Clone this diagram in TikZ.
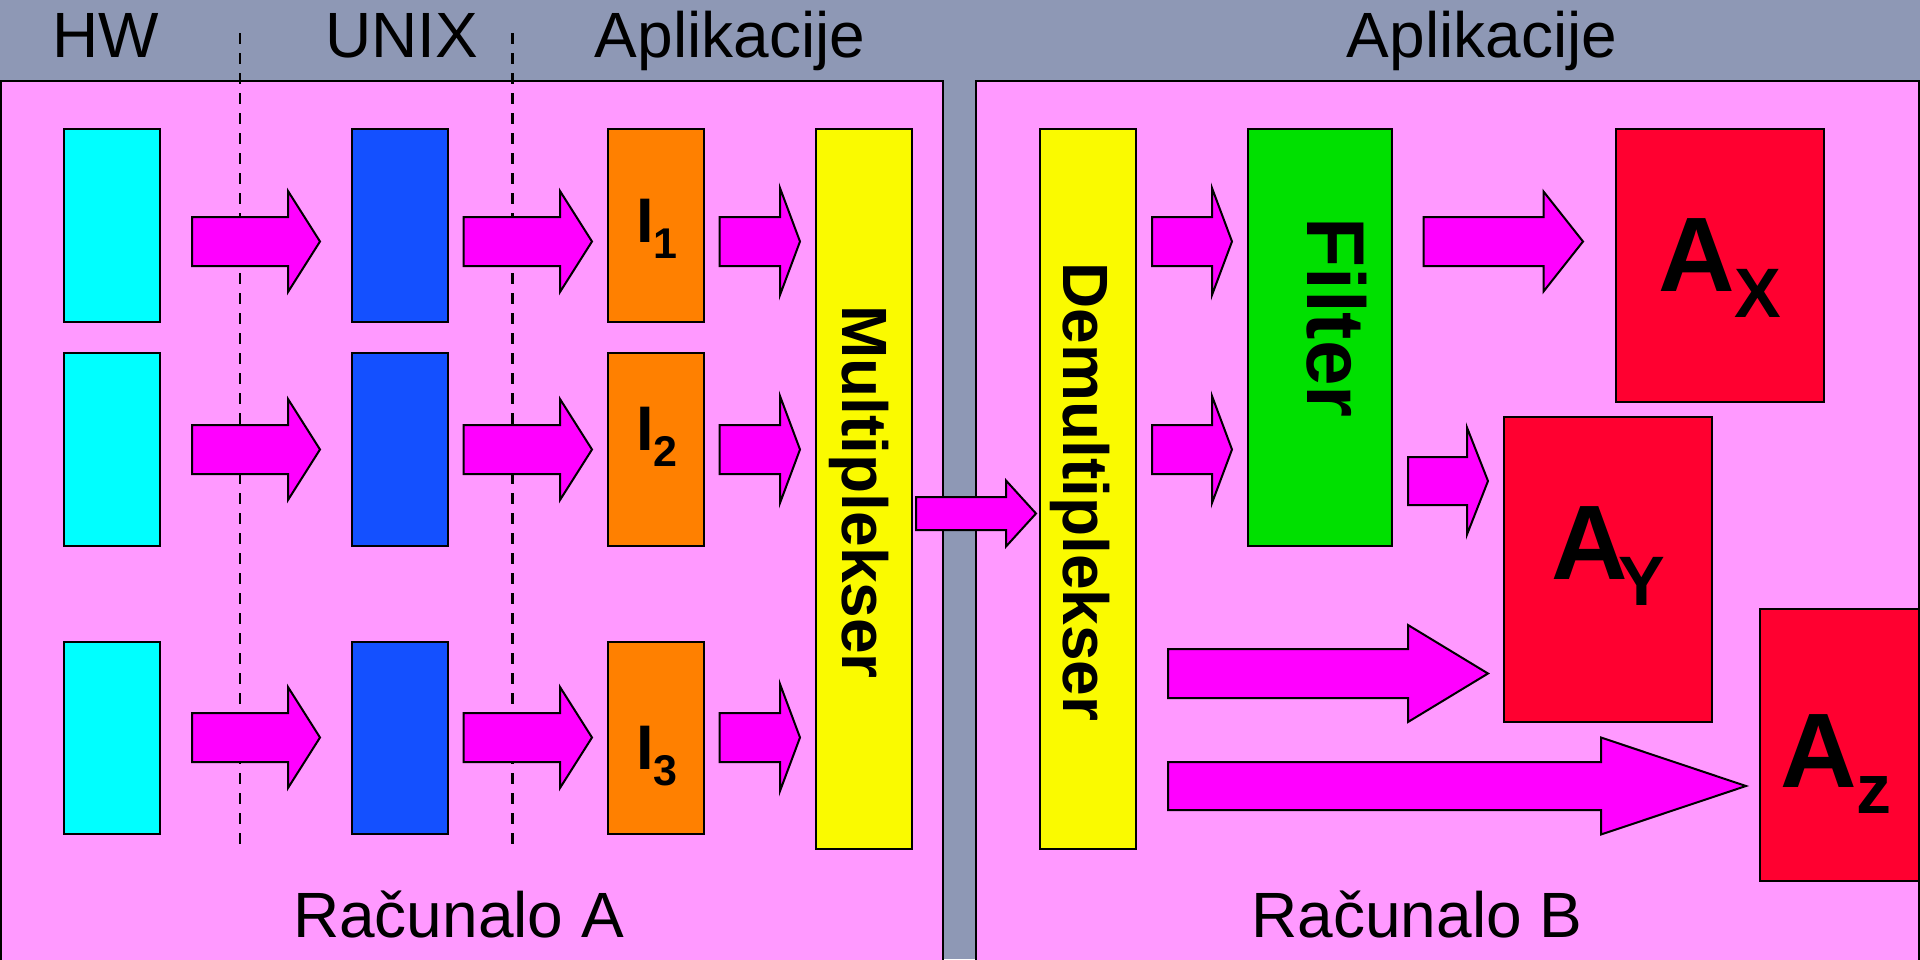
\documentclass[tikz,border=0pt]{standalone}
\usepackage{fontspec}
\setmainfont{Liberation Sans}
\definecolor{bggray}{HTML}{8E98B5}
\definecolor{pinkbg}{HTML}{FF99FF}
\definecolor{arrowmag}{HTML}{FF00FF}
\definecolor{cyanbox}{HTML}{00FFFF}
\definecolor{bluebox}{HTML}{1450FF}
\definecolor{orangebox}{HTML}{FF8000}
\definecolor{yellowbox}{HTML}{FAFA00}
\definecolor{greenbox}{HTML}{00E000}
\definecolor{redbox}{HTML}{FF0030}
% block arrow: x0, x head base, x tip, y centre, body half height, head half height
\newcommand\blockarr[6]{%
  \draw[blockarrow] (#1,#4-#5) -- (#2,#4-#5) -- (#2,#4-#6) -- (#3,#4) --
    (#2,#4+#6) -- (#2,#4+#5) -- (#1,#4+#5) -- cycle;}
\begin{document}
\begin{tikzpicture}[x=1pt,y=-1pt,
  box/.style={draw=black, line width=2.5pt, inner sep=0pt, outer sep=0pt},
  panel/.style={draw=black, line width=2.5pt, fill=pinkbg},
  blockarrow/.style={draw=black, fill=arrowmag, line width=2pt, line join=miter},
  headtxt/.style={font=\fontsize{64}{64}\selectfont, anchor=base, inner sep=0pt},
  vtxt/.style={font=\fontsize{64}{64}\selectfont\bfseries, anchor=base, rotate=-90, inner sep=0pt},
  lbl/.style={anchor=base west, inner sep=0pt},
  dashline/.style={draw=black, line width=2.5pt, dash pattern=on 11pt off 9pt}]
% background
\fill[bggray] (0,0) rectangle (1920,959);
\useasboundingbox (0,0) rectangle (1920,959);
% panels
\draw[panel] (1,81) rectangle (943,975);
\draw[panel] (976,81) rectangle (1919,975);
% headers
\node[headtxt] (hhw) at (106,57) {HW};
\node[headtxt] (hunix) at (401.5,57) {UNIX};
\node[headtxt] (happa) at (730,57) {Aplikacije};
\node[headtxt] (happb) at (1482,57) {Aplikacije};
\node[headtxt] (rca) at (458.5,937) {Računalo A};
\node[headtxt] (rcb) at (1417,937) {Računalo B};
% dashed separators
\coordinate (d1t) at (240,33); \coordinate (d1b) at (240,847);
\coordinate (d2t) at (512.5,33); \coordinate (d2b) at (512.5,847);
\draw[dashline] (d1t) -- (d1b);
\draw[dashline] (d2t) -- (d2b);
% computer A boxes
\node[box, fill=cyanbox, minimum width=96pt, minimum height=193pt] (hw1) at (112,225.5) {};
\node[box, fill=cyanbox, minimum width=96pt, minimum height=193pt] (hw2) at (112,449.5) {};
\node[box, fill=cyanbox, minimum width=96pt, minimum height=192pt] (hw3) at (112,738) {};
\node[box, fill=bluebox, minimum width=96pt, minimum height=193pt] (ux1) at (400,225.5) {};
\node[box, fill=bluebox, minimum width=96pt, minimum height=193pt] (ux2) at (400,449.5) {};
\node[box, fill=bluebox, minimum width=96pt, minimum height=192pt] (ux3) at (400,738) {};
\node[box, fill=orangebox, minimum width=96pt, minimum height=193pt] (in1) at (656,225.5) {};
\node[box, fill=orangebox, minimum width=96pt, minimum height=193pt] (in2) at (656,449.5) {};
\node[box, fill=orangebox, minimum width=96pt, minimum height=192pt] (in3) at (656,738) {};
\node[box, fill=yellowbox, minimum width=96pt, minimum height=720pt] (mux) at (864,489) {};
% computer B boxes
\node[box, fill=yellowbox, minimum width=96pt, minimum height=720pt] (demux) at (1088,489) {};
\node[box, fill=greenbox, minimum width=144pt, minimum height=417pt] (filt) at (1320,337.5) {};
\node[box, fill=redbox, minimum width=208pt, minimum height=273pt] (ax) at (1720,265.5) {};
\node[box, fill=redbox, minimum width=208pt, minimum height=305pt] (ay) at (1608,569.5) {};
\node[box, fill=redbox, minimum width=159pt, minimum height=272pt] (az) at (1839.5,745) {};
% labels
\node[lbl] (l1) at (636,242) {\fontsize{63}{63}\selectfont\bfseries I\raisebox{-16pt}{\fontsize{43}{43}\selectfont 1}};
\node[lbl] (l2) at (636,450) {\fontsize{63}{63}\selectfont\bfseries I\raisebox{-16pt}{\fontsize{43}{43}\selectfont 2}};
\node[lbl] (l3) at (636,769) {\fontsize{63}{63}\selectfont\bfseries I\raisebox{-16pt}{\fontsize{43}{43}\selectfont 3}};
\node[vtxt] (muxt) at (842,492) {Multiplekser};
\node[vtxt] (demuxt) at (1063,492) {Demultiplekser};
\node[vtxt, font=\fontsize{82}{82}\selectfont\bfseries] (filtt) at (1307,317.5) {Filter};
\node[lbl] (axt) at (1658,291) {\fontsize{106}{106}\selectfont\bfseries A\raisebox{-26pt}{\fontsize{70}{70}\selectfont X}};
\node[lbl] (ayt) at (1551,579) {\fontsize{106}{106}\selectfont\bfseries A\kern-9pt\raisebox{-26pt}{\fontsize{70}{70}\selectfont Y}};
\node[lbl] (azt) at (1780,787) {\fontsize{106}{106}\selectfont\bfseries A\raisebox{-26pt}{\fontsize{70}{70}\selectfont z}};
% arrows, computer A
\blockarr{192}{288}{320}{241.5}{24.5}{50.5}
\blockarr{192}{288}{320}{449.5}{24.5}{50.5}
\blockarr{192}{288}{320}{737.5}{24.5}{50.5}
\blockarr{463.5}{560}{592}{241.5}{24.5}{50.5}
\blockarr{463.5}{560}{592}{449.5}{24.5}{50.5}
\blockarr{463.5}{560}{592}{737.5}{24.5}{50.5}
\blockarr{719.5}{780}{800}{241.5}{24.5}{53.5}
\blockarr{719.5}{780}{800}{449.5}{24.5}{53.5}
\blockarr{719.5}{780}{800}{737.5}{24.5}{53.5}
% mux -> demux
\blockarr{916}{1006}{1036}{513.5}{16.5}{33}
% arrows, computer B
\blockarr{1152}{1212}{1232}{241.5}{24.5}{53.5}
\blockarr{1152}{1212}{1232}{449.5}{24.5}{53.5}
\blockarr{1423.5}{1543.5}{1583}{241.5}{24.5}{50}
\blockarr{1408}{1467}{1488}{481}{24}{53.5}
\blockarr{1168}{1408}{1488}{673.5}{24.5}{48.5}
\blockarr{1168}{1601}{1746}{786}{24}{48.5}
\end{tikzpicture}
\end{document}
